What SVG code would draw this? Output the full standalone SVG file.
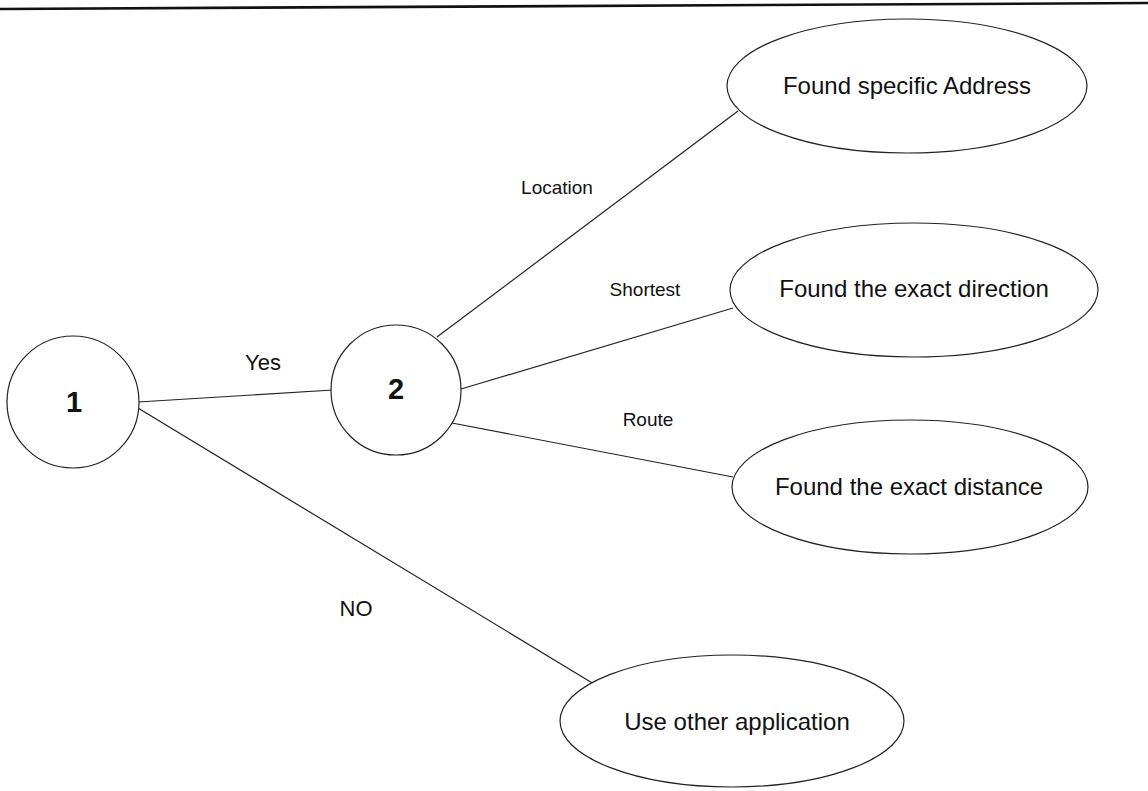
<svg xmlns="http://www.w3.org/2000/svg" width="1148" height="791" viewBox="0 0 1148 791">
<style>
.n{fill:#fff;stroke:#222;stroke-width:1.2}
.c{stroke:#222;stroke-width:1.2;fill:none}
.t{font-family:"Liberation Sans",Arial,sans-serif;fill:#111;text-anchor:middle}
.big{font-size:24px}
.lab{font-size:19px}
.lg{font-size:22px}
.num{font-size:29px;font-weight:bold}
</style>
<rect width="1148" height="791" fill="#fff"/>
<line x1="0" y1="9" x2="1148" y2="3" stroke="#111" stroke-width="2.6"/>
<g id="connectors">
<line class="c" x1="138" y1="402" x2="333" y2="390"/>
<line class="c" x1="128" y1="402" x2="594" y2="684"/>
<line class="c" x1="437" y1="337" x2="738" y2="111"/>
<line class="c" x1="461" y1="389" x2="733" y2="308"/>
<line class="c" x1="452" y1="423" x2="733" y2="477"/>
<text class="t lg" x="263" y="370">Yes</text>
<text class="t lg" x="356" y="616">NO</text>
<text class="t lab" x="557" y="194">Location</text>
<text class="t lab" x="645" y="296">Shortest</text>
<text class="t lab" x="648" y="426">Route</text>
</g>
<g id="node1">
<circle class="n" cx="73" cy="402" r="66"/>
<text class="t num" x="74" y="412">1</text>
</g>
<g id="node2">
<circle class="n" cx="396" cy="390" r="65"/>
<text class="t num" x="396" y="399">2</text>
</g>
<g id="address">
<ellipse class="n" cx="907" cy="86" rx="180" ry="67"/>
<text class="t big" x="907" y="94">Found specific Address</text>
</g>
<g id="direction">
<ellipse class="n" cx="914" cy="290" rx="184" ry="67"/>
<text class="t big" x="914" y="297">Found the exact direction</text>
</g>
<g id="distance">
<ellipse class="n" cx="910" cy="487" rx="178" ry="67"/>
<text class="t big" x="909" y="495">Found the exact distance</text>
</g>
<g id="other">
<ellipse class="n" cx="732" cy="721" rx="172" ry="66"/>
<text class="t big" x="737" y="730">Use other application</text>
</g>
</svg>
